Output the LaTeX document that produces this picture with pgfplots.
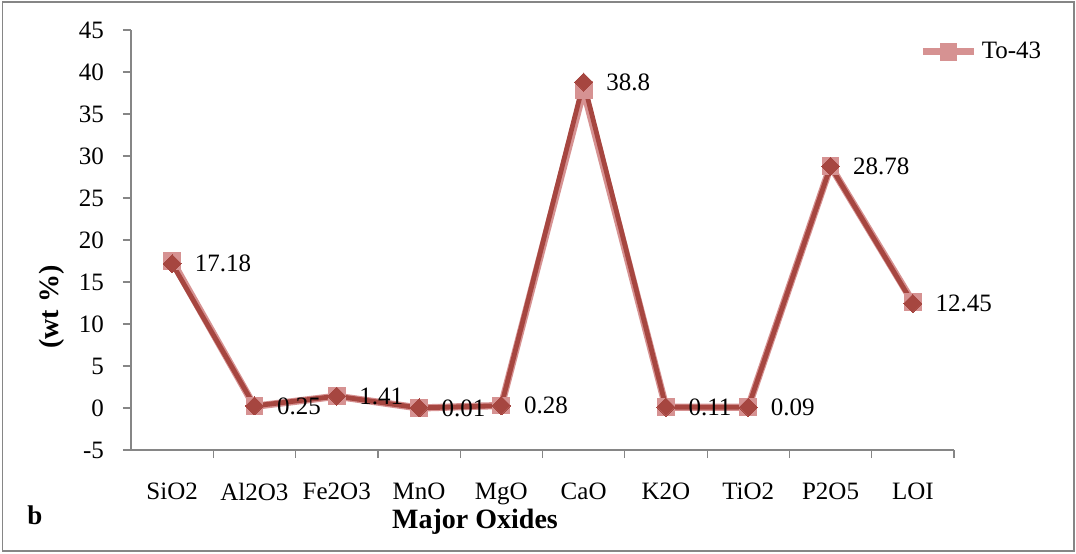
\documentclass[border=0pt]{standalone}
\usepackage{fontspec}
\setmainfont{Liberation Serif}
\usepackage{pgfplots}
\pgfplotsset{compat=1.18}
\definecolor{darkred}{RGB}{166,70,64}
\definecolor{pinkser}{RGB}{214,146,146}
\definecolor{axgray}{RGB}{134,134,134}
\begin{document}
\begin{tikzpicture}
\path[use as bounding box] (0,0) rectangle (538pt,276.5pt);
\draw[axgray, line width=0.9pt] (1.2pt,1.2pt) rectangle (536.8pt,275.3pt);
\begin{axis}[
  at={(65.5pt,51.5pt)}, anchor=south west,
  scale only axis, width=411.5pt, height=210pt,
  xmin=-0.5, xmax=9.5, ymin=-5, ymax=45,
  axis lines*=left,
  axis line style={axgray, line width=0.8pt, -},
  xtick={0,...,9},
  xticklabels={SiO2,Al2O3,Fe2O3,MnO,MgO,CaO,K2O,TiO2,P2O5,LOI},
  minor xtick={0.5,1.5,...,9.5},
  ytick={-5,0,...,45},
  major x tick style={draw=none},
  minor x tick style={axgray, line width=0.6pt},
  y tick style={axgray, line width=0.6pt},
  tick align=outside,
  major tick length=4pt, minor tick length=4pt,
  tick label style={font=\fontsize{12.5}{14}\selectfont},
  xticklabel style={yshift=-9pt},
  yticklabel style={xshift=-6pt},
  /pgf/number format/assume math mode=true,
  clip=false,
  legend style={at={(0.955,0.948)}, anchor=west, draw=none, fill=none,
    font=\fontsize{12.5}{14}\selectfont, inner sep=1pt},
  legend cell align=left,
  legend image code/.code={
    \draw[mark repeat=2, mark phase=2] plot coordinates {(0cm,0cm) (0.45cm,0cm) (0.9cm,0cm)};
  },
]
\addplot[pinkser, line width=3.6pt, mark=square*, mark size=4.2pt,
  mark options={fill=pinkser, draw=pinkser, line width=0pt}]
  coordinates {(0,17.5) (1,0.2) (2,1.4) (3,0) (4,0.3) (5,37.9) (6,0.1) (7,0.1) (8,28.8) (9,12.6)};
\addlegendentry{To-43}
\addplot[darkred, line width=2.4pt, mark=square*, mark size=3.2pt,
  mark options={fill=darkred, draw=darkred, line width=0pt, rotate=45},
  nodes near coords, point meta=explicit symbolic,
  every node near coord/.append style={anchor=west, xshift=8pt, text=black, rotate=0,
    font=\fontsize{12.5}{14}\selectfont}]
  coordinates {(0,17.18)[17.18] (1,0.25)[0.25] (2,1.41)[1.41] (3,0.01)[0.01] (4,0.28)[0.28]
   (5,38.8)[38.8] (6,0.11)[0.11] (7,0.09)[0.09] (8,28.78)[28.78] (9,12.45)[12.45]};
\end{axis}
\node[rotate=90, font=\bfseries\fontsize{14}{16}\selectfont] at (26pt,123pt) {(wt \%)};
\node[font=\bfseries\fontsize{14}{16}\selectfont] at (237.5pt,15.5pt) {Major Oxides};
\node[font=\bfseries\fontsize{13.5}{15}\selectfont] at (17.5pt,19pt) {b};
\end{tikzpicture}
\end{document}
